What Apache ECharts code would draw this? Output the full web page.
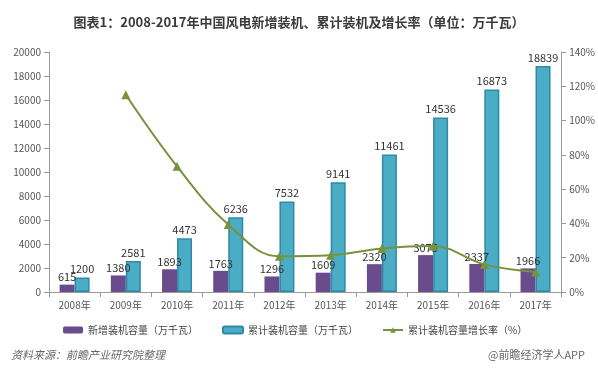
<!DOCTYPE html>
<html><head><meta charset="utf-8">
<script src="https://cdn.jsdelivr.net/npm/echarts@6/dist/echarts.min.js"></script>
<style>html,body{margin:0;padding:0;background:#fff}#c{width:598px;height:374px}</style>
</head><body><div id="c"></div>
<script>
const years = ['2008年','2009年','2010年','2011年','2012年','2013年','2014年','2015年','2016年','2017年'];
const newCap = [615,1380,1893,1763,1296,1609,2320,3075,2337,1966];
const totalCap = [1200,2581,4473,6236,7532,9141,11461,14536,16873,18839];
const growth = [null,115.1,73.3,39.4,20.8,21.4,25.4,26.8,16.1,11.7];

const chart = echarts.init(document.getElementById('c'));
const font = '"Microsoft YaHei","Noto Sans CJK SC",sans-serif';
chart.setOption({
  animation:false,
  textStyle:{fontFamily:font},
  title:[{
    text:'图表1：2008-2017年中国风电新增装机、累计装机及增长率（单位：万千瓦）',
    left:'center', top:11,
    textStyle:{fontSize:13,fontWeight:'bold',color:'#3a3a3a',fontFamily:font}
  },{
    text:'资料来源：前瞻产业研究院整理', left:6, top:344,
    textStyle:{fontSize:11,fontWeight:'normal',fontStyle:'italic',color:'#666',fontFamily:font}
  },{
    text:'@前瞻经济学人APP', right:8, top:344,
    textStyle:{fontSize:11,fontWeight:'normal',color:'#666',fontFamily:font}
  }],
  legend:{
    top:320, left:58, itemGap:24, itemWidth:20, itemHeight:7,
    textStyle:{fontSize:10,color:'#444',fontFamily:font},
    data:['新增装机容量（万千瓦）','累计装机容量（万千瓦）','累计装机容量增长率（%）']
  },
  grid:{left:49,right:33,top:52,bottom:82},
  xAxis:{
    type:'category', data:years,
    axisLine:{lineStyle:{color:'#999'}},
    axisTick:{show:true,lineStyle:{color:'#999'}},
    axisLabel:{fontSize:10,color:'#555',margin:8}
  },
  yAxis:[{
    type:'value', min:0, max:20000, interval:2000,
    axisLine:{show:true,lineStyle:{color:'#999'}},
    axisTick:{show:true,lineStyle:{color:'#999'}},
    splitLine:{show:false},
    axisLabel:{fontSize:10,color:'#555',formatter:function(v){return String(v);}}
  },{
    type:'value', min:0, max:140, interval:20,
    axisLine:{show:true,lineStyle:{color:'#999'}},
    axisTick:{show:true,lineStyle:{color:'#999'}},
    splitLine:{show:false},
    axisLabel:{fontSize:10,color:'#555',formatter:'{value}%'}
  }],
  series:[{
    name:'新增装机容量（万千瓦）', type:'bar', data:newCap, barWidth:15, barGap:'0%',
    itemStyle:{color:'#6a4c8c'},
    label:{show:true,position:'top',fontSize:11,color:'#333',distance:2}
  },{
    name:'累计装机容量（万千瓦）', type:'bar', data:totalCap, barWidth:15,
    itemStyle:{color:'#4bacc6',borderColor:'#2e8aa6',borderWidth:1.5},
    label:{show:true,position:'top',fontSize:11,color:'#333',distance:3}
  },{
    name:'累计装机容量增长率（%）', type:'line', yAxisIndex:1, data:growth, smooth:0.4,
    symbol:'triangle', symbolSize:9,
    lineStyle:{color:'#77923c',width:2},
    itemStyle:{color:'#77933c'}
  }]
});
</script></body></html>
